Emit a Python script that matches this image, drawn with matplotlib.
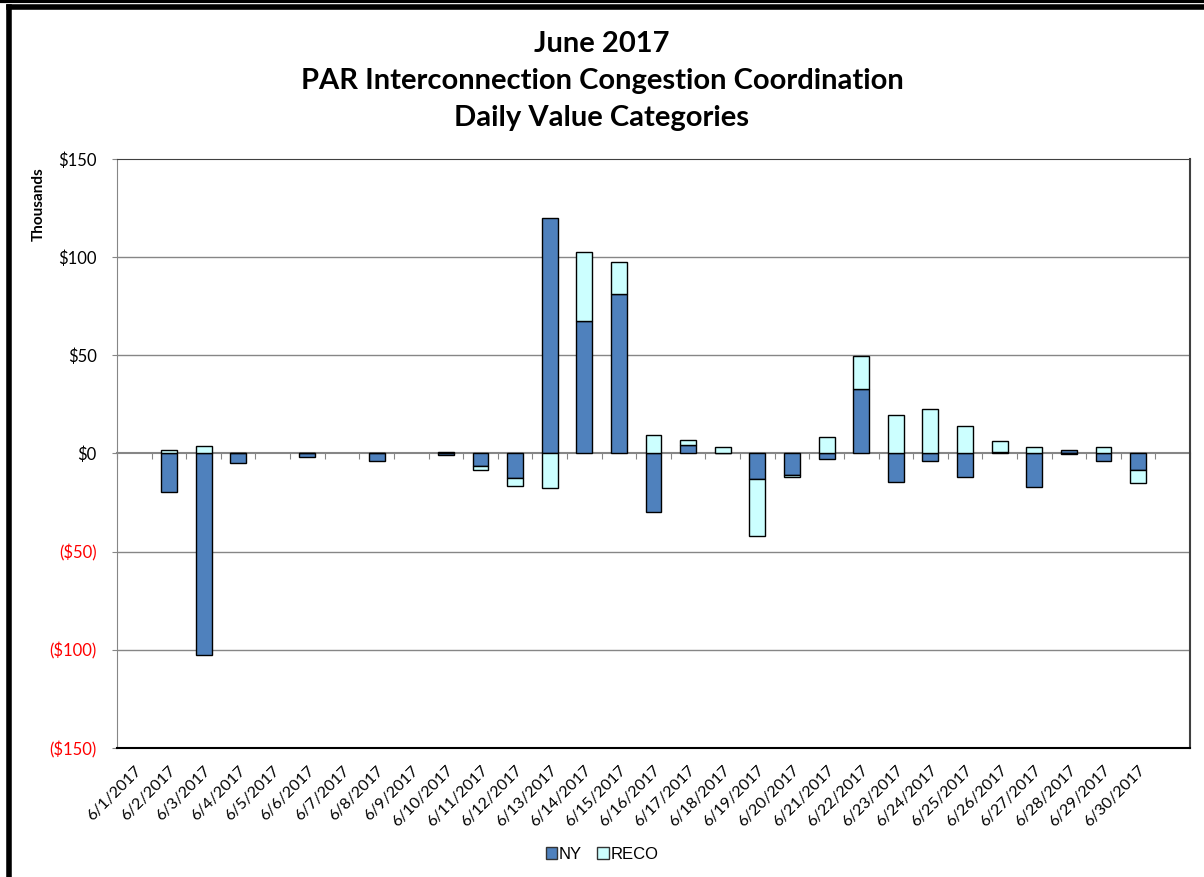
import matplotlib
matplotlib.use("Agg")
import matplotlib.pyplot as plt
from matplotlib.lines import Line2D
from matplotlib.patches import Patch
from matplotlib.ticker import FuncFormatter, FixedLocator, NullFormatter

# daily values, thousands of $
days = ["6/%d/2017" % d for d in range(1, 31)]
ny = [0, -19.4, -102.4, -4.8, 0, -1.7, 0, -3.7, 0, -1.0,
      -6.5, -12.4, 120.0, 67.6, 81.0, -29.9, 4.2, 0.5, -12.9, -11.2,
      -3.0, 32.6, -14.4, -3.6, -11.9, 0.9, -17.2, 2.0, -3.6, -8.2]
reco = [0, 1.8, 3.9, 0.5, 0, 0.5, 0, 0.3, 0, 0.8,
        -2.0, -4.1, -17.8, 35.1, 16.5, 9.2, 2.9, 2.6, -29.2, -0.6,
        8.5, 17.3, 19.4, 22.6, 13.9, 5.6, 3.1, -0.5, 3.1, -6.9]
yticks = [-150, -100, -50, 0, 50, 100, 150]

NY_COL = "#4F81BD"
RECO_COL = "#CCFFFF"
GRID = "#868686"

fig = plt.figure(figsize=(12.04, 8.77), dpi=100)
ax = fig.add_axes([0.0972, 0.1471, 0.8912, 0.6716])

x = list(range(len(days)))
# excel-style stacking: positives stack up, negatives stack down
reco_bottom = [n if (n >= 0) == (r >= 0) else 0 for n, r in zip(ny, reco)]

ax.bar(x, ny, width=0.46, color=NY_COL, edgecolor="black",
       linewidth=[1 if v else 0 for v in ny], zorder=3)
ax.bar(x, reco, bottom=reco_bottom, width=0.46, color=RECO_COL, edgecolor="black",
       linewidth=[1 if v else 0 for v in reco], zorder=3)

ax.set_xlim(-0.5, len(days) + 0.5)
ax.set_ylim(-150, 150)
ax.set_yticks(yticks)
ax.yaxis.set_major_formatter(FuncFormatter(lambda v, p: "$%d" % v if v >= 0 else "($%d)" % -v))
for v in [-100, -50, 50, 100]:
    ax.axhline(v, color=GRID, lw=1, zorder=1)

ax.tick_params(axis="y", direction="out", length=3.6, color=GRID, labelsize=12, pad=11)
for lab, v in zip(ax.get_yticklabels(), yticks):
    lab.set_color("black" if v >= 0 else "#FF0000")
    lab.set_fontfamily("Lato")

ax.set_xticks(x)
ax.set_xticklabels(days, rotation=45, ha="right", va="top", rotation_mode="anchor",
                   fontsize=11.5, fontfamily="Lato")
ax.tick_params(axis="x", length=0, pad=11)

ax.spines["left"].set_color(GRID)
ax.spines["bottom"].set_color("black")
ax.spines["top"].set_color("#404040")
ax.spines["right"].set_color("#404040")
ax.spines["bottom"].set_linewidth(1.5)
ax.spines["right"].set_linewidth(1.5)

# category axis crossing at zero, with tick marks between days
zax = ax.secondary_xaxis(0.5)
for s in zax.spines.values():
    s.set_color(GRID)
    s.set_linewidth(1.5)
zax.xaxis.set_major_locator(FixedLocator([i - 0.5 for i in range(len(days) + 2)]))
zax.xaxis.set_major_formatter(NullFormatter())
zax.tick_params(axis="x", which="both", direction="in", length=4, color=GRID,
                labeltop=False, labelbottom=False)

ax.set_ylabel("Thousands", fontsize=11, fontweight="bold", fontfamily="Lato")
ax.yaxis.set_label_coords(-0.066, 0.924)

fig.text(0.5, 0.965, "June 2017\nPAR Interconnection Congestion Coordination\nDaily Value Categories",
         ha="center", va="top", fontsize=21, fontweight="bold", fontfamily="Lato", linespacing=1.52)

handles = [Patch(facecolor=NY_COL, edgecolor="#333333", linewidth=1),
           Patch(facecolor=RECO_COL, edgecolor="#333333", linewidth=1)]
fig.legend(handles=handles, labels=["NY", "RECO"], loc="lower center", bbox_to_anchor=(0.5, 0.0),
           ncol=2, frameon=False, handlelength=0.7, handleheight=0.7, handletextpad=0.1,
           columnspacing=0.9, prop={"family": "Liberation Sans", "size": 12})

# outer chart frame (cropped at the edges)
fig.add_artist(Line2D([0, 1], [0.9985, 0.9985], transform=fig.transFigure, color="black", lw=3))
fig.add_artist(Line2D([0.0075, 1], [0.9915, 0.9915], transform=fig.transFigure, color="black", lw=4))
fig.add_artist(Line2D([0.0075, 0.0075], [0, 0.9915], transform=fig.transFigure, color="black", lw=4))

fig.savefig("out.png", dpi=100)
